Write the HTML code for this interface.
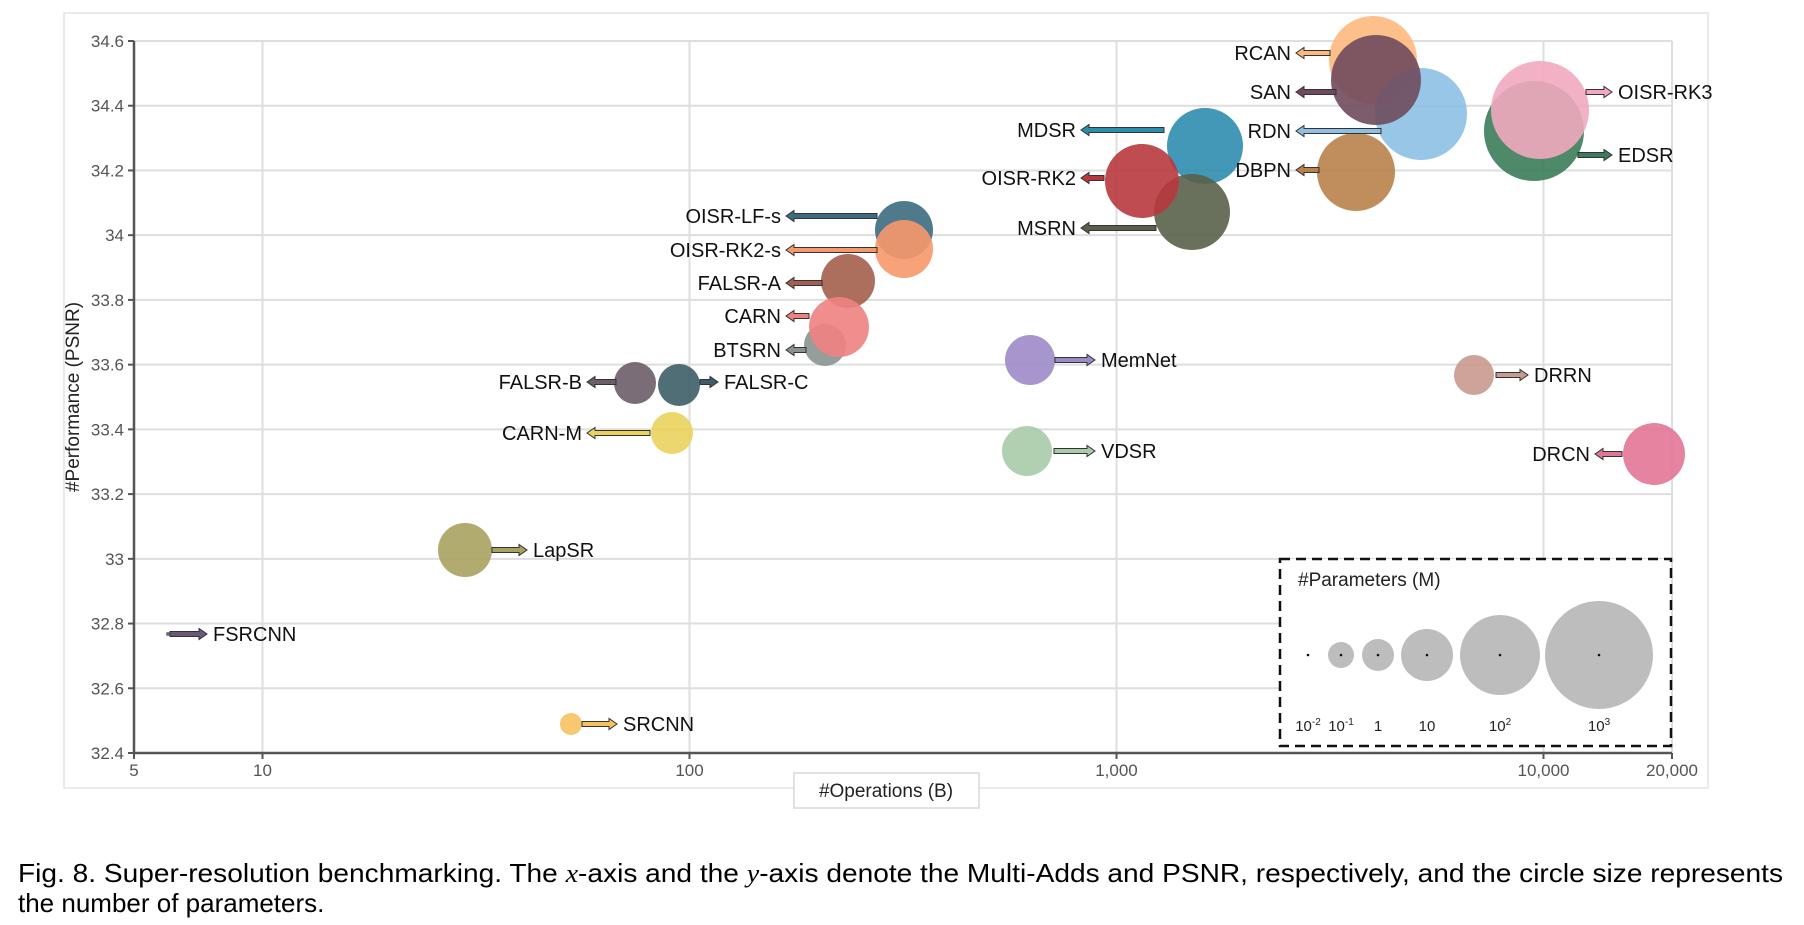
<!DOCTYPE html>
<html><head><meta charset="utf-8"><style>
html,body{margin:0;padding:0;background:#fff;width:1804px;height:925px;overflow:hidden}
svg{display:block}
</style></head><body>
<svg id="s" width="1804" height="925" xmlns="http://www.w3.org/2000/svg" font-family="Liberation Sans, sans-serif">
<rect x="64" y="13" width="1644" height="775" fill="none" stroke="#e3e3e3" stroke-width="1.5"/>
<g id="grid"></g>
<g id="bub"></g>
<g id="arr"></g>
<g id="lab" font-size="20" fill="#111"></g>
<rect x="1280" y="559" width="391" height="187" fill="#fff" stroke="#111" stroke-width="2.5" stroke-dasharray="10,6"/>
<text x="1298" y="586" font-size="19" fill="#222">#Parameters (M)</text>
<g fill="#bdbdbd">
<circle cx="1341" cy="655" r="13"/><circle cx="1378" cy="655" r="16"/><circle cx="1427" cy="655" r="26"/><circle cx="1500" cy="655" r="40"/><circle cx="1599" cy="655" r="54"/>
</g>
<g fill="#111"><circle cx="1308" cy="655" r="1.3"/><circle cx="1341" cy="655" r="1.3"/><circle cx="1378" cy="655" r="1.3"/><circle cx="1427" cy="655" r="1.3"/><circle cx="1500" cy="655" r="1.3"/><circle cx="1599" cy="655" r="1.3"/></g>
<g font-size="15" fill="#222" text-anchor="middle">
<text x="1308" y="731">10<tspan font-size="10" dy="-6">-2</tspan></text>
<text x="1341" y="731">10<tspan font-size="10" dy="-6">-1</tspan></text>
<text x="1378" y="731">1</text>
<text x="1427" y="731">10</text>
<text x="1500" y="731">10<tspan font-size="10" dy="-6">2</tspan></text>
<text x="1599" y="731">10<tspan font-size="10" dy="-6">3</tspan></text>
</g>
<text transform="translate(79,397) rotate(-90)" font-size="19" text-anchor="middle" fill="#222">#Performance (PSNR)</text>
<rect x="794" y="773" width="185" height="35" fill="#fff" stroke="#d8d8d8" stroke-width="1.5"/>
<text x="886" y="797" font-size="19" text-anchor="middle" fill="#222">#Operations (B)</text>
<text x="18" y="882" font-size="26" fill="#000" textLength="1765" lengthAdjust="spacingAndGlyphs">Fig. 8.  Super-resolution benchmarking. The <tspan font-family="Liberation Serif, serif" font-style="italic">x</tspan>-axis and the <tspan font-family="Liberation Serif, serif" font-style="italic">y</tspan>-axis denote the Multi-Adds and PSNR, respectively, and the circle size represents</text>
<text x="18" y="912" font-size="26" fill="#000">the number of parameters.</text>
</svg>
<script>
var NS="http://www.w3.org/2000/svg";
function el(p,t,a,txt){var e=document.createElementNS(NS,t);for(var k in a)e.setAttribute(k,a[k]);if(txt!=null)e.textContent=txt;p.appendChild(e);return e;}
var g=document.getElementById('grid');
var X0=134,X1=1672,Y0=41,Y1=753;
var ys=["34.6","34.4","34.2","34","33.8","33.6","33.4","33.2","33","32.8","32.6","32.4"];
for(var i=0;i<ys.length;i++){var y=Y0+i*(Y1-Y0)/11;
 if(i<11) el(g,'line',{x1:X0,x2:X1,y1:y,y2:y,stroke:'#dedede','stroke-width':2});
 el(g,'line',{x1:X0-6,x2:X0,y1:y,y2:y,stroke:'#555','stroke-width':2});
 el(g,'text',{x:X0-10,y:y+6,'font-size':17,'text-anchor':'end',fill:'#555'},ys[i]);}
var xs=[[262.5,"10"],[689.5,"100"],[1116.5,"1,000"],[1543.5,"10,000"],[1672,"20,000"],[134,"5"]];
xs.forEach(function(d){ if(d[0]!=134) el(g,'line',{x1:d[0],x2:d[0],y1:Y0,y2:Y1,stroke:'#dedede','stroke-width':2});
 el(g,'line',{x1:d[0],x2:d[0],y1:Y1,y2:Y1+6,stroke:'#555','stroke-width':2});
 el(g,'text',{x:d[0],y:Y1+23,'font-size':17,'text-anchor':'middle',fill:'#555'},d[1]);});
el(g,'line',{x1:X0,x2:X0,y1:Y0,y2:Y1,stroke:'#555','stroke-width':2.5});
el(g,'line',{x1:X0,x2:X1,y1:Y1,y2:Y1,stroke:'#555','stroke-width':2.5});
// bubbles: cx,cy,r,color,label,dir,ax1,ax2,ay
var B=[
["RCAN",1373,60,44,"#fdb97d","L",1330,1296,53],
["EDSR",1534,131,50,"#3b7d5a","R",1578,1612,155],
["RDN",1421,114,46,"#8dc0e4","L",1381,1296,131],
["SAN",1376,80,45,"#6f4a5c","L",1336,1296,92],
["DBPN",1356,172,39,"#b8824a","L",1319,1296,170],
["OISR-RK3",1540,110,49,"#f2a9bf","R",1586,1612,92],
["MDSR",1205,146,38,"#2d8dae","L",1164,1081,130],
["MSRN",1192,212,38,"#59604a","L",1156,1081,228],
["OISR-RK2",1142,181,37,"#b8393d","L",1104,1081,178],
["OISR-LF-s",904,230,29,"#3c6b80","L",877,786,216],
["OISR-RK2-s",904,249,29,"#f7986c","L",877,786,250],
["FALSR-A",848,281,27,"#a35f4d","L",822,786,283],
["BTSRN",825,345,21,"#8b9390","L",806,786,350],
["CARN",839,327,30,"#ee8281","L",809,786,316],
["FALSR-B",635,383,21,"#6d5d69","L",616,587,382],
["FALSR-C",679,385,21,"#3c5e67","R",700,718,382],
["CARN-M",672,433,21,"#ead35d","L",650,587,433],
["MemNet",1030,360,25,"#9d89c8","R",1055,1095,360],
["VDSR",1027,451,25,"#a9cba9","R",1054,1095,451],
["DRRN",1474,375,20,"#c99a8f","R",1496,1528,375],
["DRCN",1654,454,31,"#e27596","L",1622,1595,454],
["LapSR",465,550,27,"#a8a25f","R",492,527,550],
["FSRCNN",168,634,2,"#6a5a78","R",170,207,634],
["SRCNN",571,724,11,"#f6c25f","R",582,617,724]
];
var bg=document.getElementById('bub'),ag=document.getElementById('arr'),lg=document.getElementById('lab');
B.forEach(function(b){
 el(bg,'circle',{cx:b[1],cy:b[2],r:b[3],fill:b[4],'fill-opacity':0.9});
 var a1=b[6],a2=b[7],y=b[8],d=(a2>a1)?1:-1,h=8,s=2.5;
 var hx=a2-d*h;
 var pts=[[a1,y-s],[hx,y-s],[hx,y-5.5],[a2,y],[hx,y+5.5],[hx,y+s],[a1,y+s]].map(function(p){return p.join(',')}).join(' ');
 el(ag,'polygon',{points:pts,fill:b[4],stroke:'#333','stroke-width':1});
 if(b[5]=="L") el(lg,'text',{x:a2-5,y:y+7,'text-anchor':'end'},b[0]);
 else el(lg,'text',{x:a2+6,y:y+7},b[0]);
});
</script>
</body></html>
